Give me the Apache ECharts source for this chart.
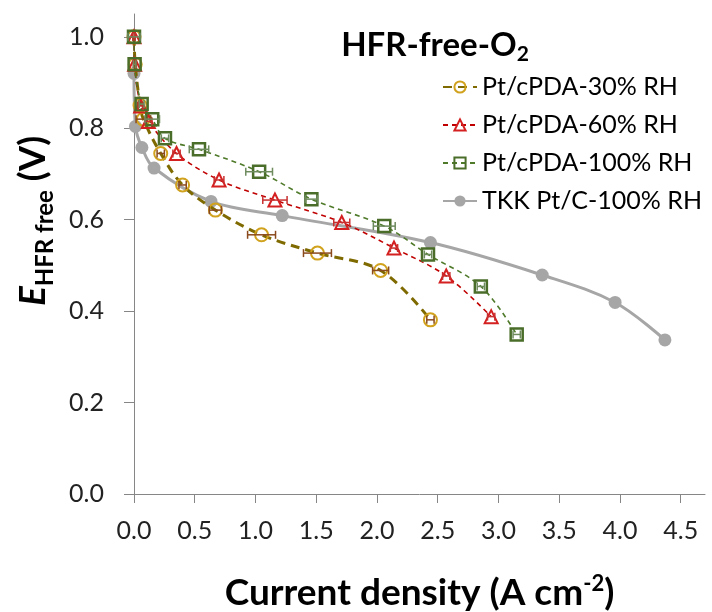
<!DOCTYPE html>
<html><head><meta charset="utf-8">
<script src="https://cdn.jsdelivr.net/npm/echarts@6/dist/echarts.min.js"></script>
<style>html,body{margin:0;padding:0;background:#fff}#c{width:712px;height:612px}</style>
</head><body><div id="c"></div>
<script>
const xTicks = [0, 0.5, 1.0, 1.5, 2.0, 2.5, 3.0, 3.5, 4.0, 4.5];
const yTicks = [0, 0.2, 0.4, 0.6, 0.8, 1.0];
const names = ['Pt/cPDA-30% RH', 'Pt/cPDA-60% RH', 'Pt/cPDA-100% RH', 'TKK Pt/C-100% RH'];

const rh30 = [[0,1.0],[0.01,0.94],[0.05,0.85],[0.077,0.82],[0.22,0.745],[0.40,0.676],[0.67,0.621],[1.05,0.567],[1.51,0.527],[2.03,0.489],[2.44,0.381]];
const rh30Err = [0.01,0.01,0.02,0.06,0.03,0.03,0.05,0.115,0.115,0.066,0.03];

const rh60 = [[0,1.0],[0.005,0.94],[0.055,0.849],[0.118,0.815],[0.35,0.745],[0.70,0.687],[1.16,0.643],[1.71,0.594],[2.14,0.538],[2.57,0.477],[2.94,0.388]];
const rh60Err = [0.01,0.01,0.02,0.03,0.03,0.04,0.10,0.066,0.03,0.03,0.03];

const rh100 = [[0,1.0],[0.005,0.94],[0.063,0.853],[0.15,0.82],[0.255,0.778],[0.535,0.754],[1.03,0.705],[1.46,0.645],[2.06,0.586],[2.42,0.524],[2.855,0.454],[3.15,0.349]];
const rh100Err = [0.05,0.01,0.02,0.06,0.03,0.08,0.11,0.05,0.09,0.03,0.03,0.03];

const tkk = [[0,0.92],[0.012,0.804],[0.065,0.758],[0.165,0.713],[0.634,0.64],[1.22,0.609],[2.44,0.55],[3.36,0.479],[3.96,0.419],[4.37,0.337]];

const FONT = 'Lato, "Open Sans", sans-serif';

function errSeries(data, err, color) {
  return {
    type: 'custom', silent: true, z: 5,
    data: data.map((d, i) => [d[0], d[1], err[i]]),
    encode: { x: 0, y: 1 },
    renderItem(params, api) {
      const x = api.value(0), y = api.value(1), e = api.value(2);
      const p1 = api.coord([x - e, y]), p2 = api.coord([x + e, y]);
      const h = 4;
      const style = { stroke: color, lineWidth: 1.5 };
      return { type: 'group', children: [
        { type: 'line', shape: { x1: p1[0], y1: p1[1], x2: p2[0], y2: p2[1] }, style },
        { type: 'line', shape: { x1: p1[0], y1: p1[1] - h, x2: p1[0], y2: p1[1] + h }, style },
        { type: 'line', shape: { x1: p2[0], y1: p2[1] - h, x2: p2[0], y2: p2[1] + h }, style }
      ]};
    }
  };
}

const chart = echarts.init(document.getElementById('c'), null, { renderer: 'canvas' });
chart.setOption({
  animation: false,
  backgroundColor: '#fff',
  title: {
    text: '{a|HFR-free-O}{s|2}',
    left: 430, top: 20, textAlign: 'center',
    textStyle: { rich: {
      a: { fontFamily: FONT, fontWeight: 'bold', fontSize: 33, color: '#000', lineHeight: 40, verticalAlign: 'middle' },
      s: { fontFamily: FONT, fontWeight: 'bold', fontSize: 21, color: '#000', lineHeight: 22, verticalAlign: 'bottom' }
    } }
  },
  legend: {
    data: names, orient: 'vertical', left: 437, top: 69,
    itemWidth: 34, itemHeight: 14, itemGap: 12,
    textStyle: { fontFamily: FONT, fontSize: 25, color: '#000', lineHeight: 26 }
  },
  grid: { left: 134, right: 7, top: 14, bottom: 118, containLabel: false, outerBoundsMode: 'none' },
  xAxis: {
    type: 'value', min: 0, max: 4.7, interval: 0.5,
    name: 'Current density (A cm{sup|-2})',
    nameLocation: 'middle', nameGap: 79,
    nameTextStyle: { fontFamily: FONT, fontWeight: 'bold', fontSize: 37, color: '#000',
      rich: { sup: { fontFamily: FONT, fontWeight: 'bold', fontSize: 22, color: '#000', verticalAlign: 'top', lineHeight: 40 } } },
    axisLine: { lineStyle: { color: '#868686', width: 1 } },
    axisTick: { length: 9, lineStyle: { color: '#868686' }, customValues: xTicks },
    axisLabel: { customValues: xTicks, fontFamily: FONT, fontSize: 25, color: '#222', margin: 24,
      formatter: v => v.toFixed(1) },
    splitLine: { show: false }
  },
  yAxis: {
    type: 'value', min: 0, max: 1.05, interval: 0.2,
    axisLine: { show: true, lineStyle: { color: '#868686', width: 1 } },
    axisTick: { show: true, length: 10, lineStyle: { color: '#868686' }, customValues: yTicks },
    axisLabel: { customValues: yTicks, fontFamily: FONT, fontSize: 25, color: '#222', margin: 30,
      formatter: v => v.toFixed(1) },
    splitLine: { show: false }
  },
  graphic: [{
    type: 'text', x: 33, y: 221, rotation: Math.PI / 2,
    style: {
      text: '{e|E}{s|HFR free}{b| (V)}',
      align: 'center', verticalAlign: 'middle',
      rich: {
        e: { fontFamily: FONT, fontWeight: 'bold', fontStyle: 'italic', fontSize: 37, fill: '#000', lineHeight: 48, verticalAlign: 'middle' },
        s: { fontFamily: FONT, fontWeight: 'bold', fontSize: 24, fill: '#000', lineHeight: 26, verticalAlign: 'bottom' },
        b: { fontFamily: FONT, fontWeight: 'bold', fontSize: 36, fill: '#000', lineHeight: 48, verticalAlign: 'middle' }
      }
    }
  }],
  series: [
    {
      name: names[3], type: 'line', data: tkk, smooth: 0.35, z: 2,
      symbol: 'circle', symbolSize: 13,
      lineStyle: { color: '#A6A6A6', width: 3 },
      itemStyle: { color: '#A6A6A6' }
    },
    {
      name: names[0], type: 'line', data: rh30, smooth: 0.35, z: 3,
      symbol: 'circle', symbolSize: 13,
      lineStyle: { color: '#7F6A00', width: 3, type: [9, 6] },
      itemStyle: { color: 'rgba(255,255,255,0)', borderColor: '#D1A21E', borderWidth: 2 }
    },
    {
      name: names[1], type: 'line', data: rh60, smooth: 0.35, z: 3,
      symbol: 'triangle', symbolSize: 13,
      lineStyle: { color: '#C00000', width: 1.6, type: [5, 4] },
      itemStyle: { color: 'rgba(255,255,255,0)', borderColor: '#D42020', borderWidth: 2 }
    },
    {
      name: names[2], type: 'line', data: rh100, smooth: 0.35, z: 3,
      symbol: 'rect', symbolSize: 12,
      lineStyle: { color: '#4F7A2A', width: 1.6, type: [5, 4] },
      itemStyle: { color: 'rgba(255,255,255,0)', borderColor: '#4A6E2A', borderWidth: 2.5 }
    },
    errSeries(rh30, rh30Err, '#8A4A1C'),
    errSeries(rh60, rh60Err, '#C83030'),
    errSeries(rh100, rh100Err, '#6E8B5E')
  ]
});
</script>
</body></html>
